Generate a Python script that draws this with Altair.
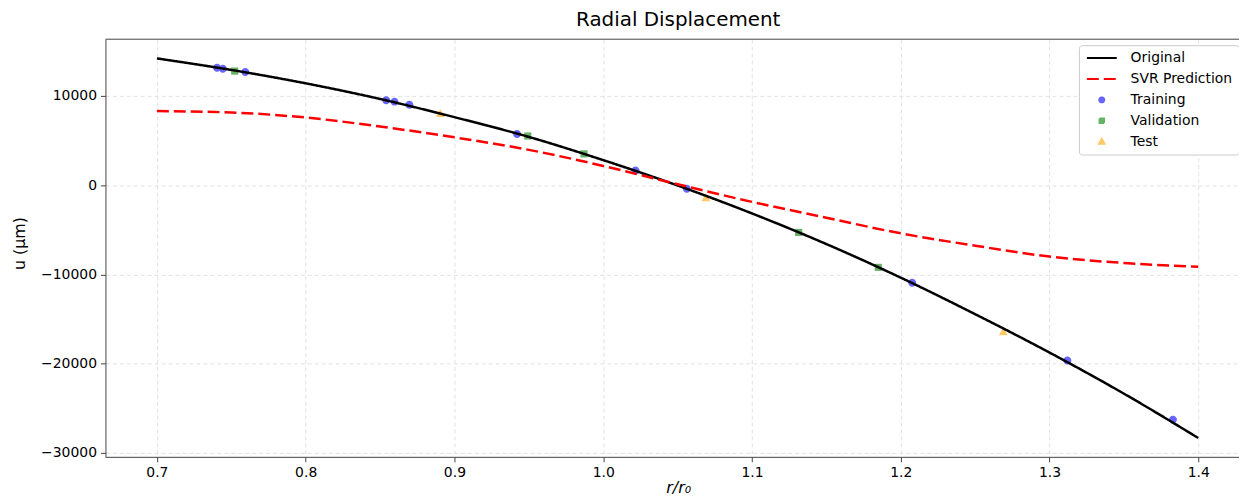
import altair as alt
import pandas as pd

# ---- data ----
x_curve = [0.70, 0.75, 0.80, 0.85, 0.90, 0.95, 1.00, 1.05, 1.10, 1.15, 1.20, 1.25, 1.30, 1.35, 1.40]
u_original = [14190, 12900, 11400, 9650, 7610, 5400, 2800, -40, -3170, -6600, -10360, -14450, -18750, -23350, -28320]
u_svr = [8290, 8130, 7570, 6560, 5350, 3950, 2150, 100, -1880, -3650, -5400, -6780, -8000, -8720, -9150]

train_x = [0.7404, 0.7443, 0.7594, 0.8541, 0.8597, 0.8697, 0.9421, 1.0217, 1.0562, 1.2077, 1.312, 1.383]
train_u = [13140, 13030, 12660, 9510, 9350, 8990, 5720, 1640, -400, -10940, -19640, -26260]
val_x = [0.7523, 0.9493, 0.9871, 1.1314, 1.1849]
val_u = [12770, 5500, 3500, -5300, -9210]
test_x = [0.8905, 1.069, 1.269]
test_u = [8030, -1410, -16400]

series_names = ["Original", "SVR Prediction", "Training", "Validation", "Test"]
series_colors = ["#000000", "#ff0000", "#6666ff", "#66b366", "#ffc966"]

x_ticks = [0.7, 0.8, 0.9, 1.0, 1.1, 1.2, 1.3, 1.4]
y_ticks = [-30000, -20000, -10000, 0, 10000]

# ---- tables ----
lines_df = pd.concat([
    pd.DataFrame({"r": x_curve, "u": u_original, "series": "Original"}),
    pd.DataFrame({"r": x_curve, "u": u_svr, "series": "SVR Prediction"}),
])
points_df = pd.concat([
    pd.DataFrame({"r": train_x, "u": train_u, "series": "Training"}),
    pd.DataFrame({"r": val_x, "u": val_u, "series": "Validation"}),
    pd.DataFrame({"r": test_x, "u": test_u, "series": "Test"}),
])

FONT = "DejaVu Sans"
line_path = "M-3,0H3"
circle_path = "M0.5,0A0.5,0.5,0,1,1,-0.5,0A0.5,0.5,0,1,1,0.5,0Z"
square_path = "M-0.45,-0.45H0.45V0.45H-0.45Z"
tri_path = "M0,-0.55L0.55,0.45H-0.55Z"

leg = alt.Legend(title=None, orient="none", legendX=979, legendY=6)

color_scale = alt.Scale(domain=series_names, range=series_colors)
shape_scale = alt.Scale(domain=series_names,
                        range=[line_path, line_path, circle_path, square_path, tri_path])
dash_scale = alt.Scale(domain=series_names,
                       range=[[1, 0], [12, 5], [1, 0], [1, 0], [1, 0]])

x_enc = alt.X("r:Q", scale=alt.Scale(domain=[0.6654, 1.4274], nice=False, zero=False),
              axis=alt.Axis(values=x_ticks, format=".1f", title="r/r₀",
                            titleFontStyle="italic", titleX=576, titleY=31,
                            titleBaseline="middle", titleAlign="center"))
y_enc = alt.Y("u:Q", scale=alt.Scale(domain=[-30430, 16340], nice=False, zero=False),
              axis=alt.Axis(values=y_ticks, format="d", title="u (μm)",
                            titleX=-86, titleY=205, titleAngle=270,
                            titleBaseline="middle", titleAlign="center"))

points = alt.Chart(points_df).mark_point(filled=True, size=256, opacity=1).encode(
    x=x_enc, y=y_enc,
    color=alt.Color("series:N", scale=color_scale, legend=leg),
    shape=alt.Shape("series:N", scale=shape_scale, legend=leg),
)

lines = alt.Chart(lines_df).mark_line(strokeWidth=2.5, interpolate="monotone").encode(
    x=x_enc, y=y_enc,
    color=alt.Color("series:N", scale=color_scale, legend=leg),
    strokeDash=alt.StrokeDash("series:N", scale=dash_scale, legend=leg),
    order="r:Q",
)

top_spine = alt.Chart(alt.Data(values=[{"a": 1}])).mark_rule(
    color="#444444", strokeWidth=1).encode(y=alt.value(0))

chart = alt.layer(points, lines, top_spine).properties(
    width=1140, height=420,
    title=alt.TitleParams("Radial Displacement", dx=6),
    autosize=alt.AutoSizeParams(type="none"),
    padding={"left": 98, "top": 30, "right": 0, "bottom": 40},
).configure_view(stroke=None).configure_axis(
    labelFont=FONT, labelFontSize=14, labelColor="black",
    titleFont=FONT, titleFontSize=16, titleColor="black", titleFontWeight="normal",
    domainColor="#444444", tickColor="#444444", tickSize=5, labelPadding=4,
    gridColor="#dadada", gridDash=[4, 3], gridWidth=0.8,
).configure_title(
    font=FONT, fontSize=20, fontWeight="normal", color="black",
    anchor="middle", offset=9,
).configure_legend(
    labelFont=FONT, labelFontSize=14, labelColor="black",
    padding=6, symbolOffset=10, labelOffset=22, rowPadding=7,
    symbolSize=100, symbolStrokeWidth=2,
    strokeColor="#cccccc", fillColor="white", cornerRadius=3,
)

chart.save("out.html", embed_options={"renderer": "svg", "actions": False})
